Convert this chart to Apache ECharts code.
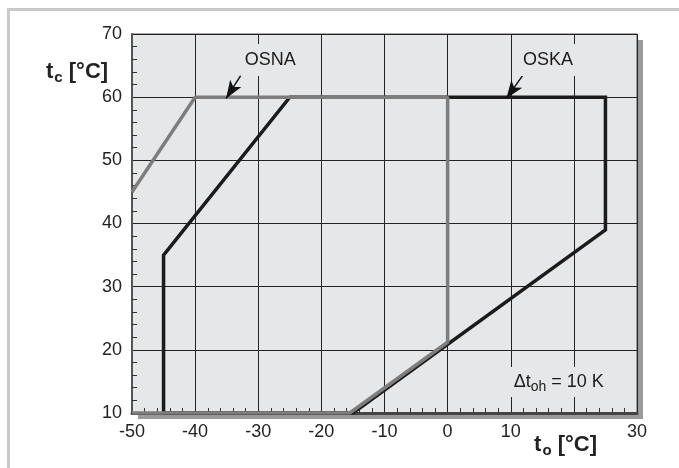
<!DOCTYPE html>
<html>
<head>
<meta charset="utf-8">
<script src="https://cdn.jsdelivr.net/npm/echarts@6/dist/echarts.min.js"></script>
<style>
  html, body { margin: 0; padding: 0; background: #fff; }
  #chart { width: 679px; height: 468px; }
</style>
</head>
<body>
<div id="chart"></div>
<script>
// evaporating temperature t_o (x) vs condensing temperature t_c (y)
const osnaX = [-50, -40, 0, 0, -15.5, -50];
const osnaY = [45, 60, 60, 21.2, 10, 10];
const oskaX = [-45, -45, -25, 25, 25, -15, -45];
const oskaY = [10, 35, 60, 60, 39, 10, 10];

const xTicks = { min: -50, max: 30, step: 10 };
const yTicks = { min: 10, max: 70, step: 10 };

// annotation anchors (data coords)
const osnaLabel = [-28.1, 65.9];
const oskaLabel = [15.9, 65.9];
const osnaLeader = [[-24, 64], [-32.4, 64], [-35.1, 59.8]];
const oskaLeader = [[20.4, 64], [12.3, 64], [9.3, 59.8]];
const noteLabel = [17.6, 14.9];

const bg = '#e6e7e8';
const font = '"Liberation Sans", Arial, sans-serif';

function pairs(xs, ys) {
    return xs.map((x, i) => [x, ys[i]]);
}

function leaderLines(pts) {
    return [
        [{ coord: pts[0], symbol: 'none' }, { coord: pts[1], symbol: 'none' }],
        [{ coord: pts[1], symbol: 'none' }, { coord: pts[2], symbol: 'arrow', symbolSize: [10, 18] }]
    ];
}

const nameRich = {
    b: { fontSize: 22, fontWeight: 'bold', color: '#222', fontFamily: font },
    s: { fontSize: 15, fontWeight: 'bold', color: '#222', fontFamily: font, padding: [12, 0, 0, 1] }
};

const chart = echarts.init(document.getElementById('chart'));

const option = {
    animation: false,
    textStyle: { fontFamily: font },
    // y axis name sits left of the axis, between the 60 and 70 labels
    title: {
        text: '{b|t}{s|c}{b| [°C]}',
        left: 46, top: 58,
        padding: 0,
        textStyle: { rich: nameRich }
    },
    graphic: [{
        id: 'frame',
        type: 'rect',
        left: 6, top: 7,
        shape: { width: 720, height: 520 },
        style: { fill: 'none', stroke: '#c9c9c9', lineWidth: 3 },
        z: -1
    }],
    grid: {
        left: 132, right: 42, top: 34, bottom: 55,
        show: true,
        backgroundColor: bg,
        borderColor: '#555',
        borderWidth: 1
    },
    xAxis: {
        type: 'value',
        min: xTicks.min, max: xTicks.max, interval: xTicks.step,
        name: '{b|t}{s|o}{b| [°C]}',
        nameLocation: 'end',
        nameGap: -40,
        nameMoveOverlap: false,
        nameTextStyle: {
            align: 'right', verticalAlign: 'top', padding: [18, 0, 0, 0],
            rich: nameRich
        },
        axisLine: { show: true, onZero: false, lineStyle: { color: '#444', width: 3 } },
        axisTick: { show: false, inside: true },
        minorTick: { show: true, splitNumber: 5, length: 5, lineStyle: { color: '#333', width: 1 } },
        axisLabel: {
            margin: 10, fontSize: 18, color: '#222',
            formatter: v => (v === 20 ? '' : String(v))
        },
        splitLine: { show: true, lineStyle: { color: '#222', width: 1 } }
    },
    yAxis: {
        type: 'value',
        min: yTicks.min, max: yTicks.max, interval: yTicks.step,
        axisLine: { show: true, onZero: false, lineStyle: { color: '#555', width: 2 } },
        axisTick: { show: false, inside: true },
        minorTick: { show: true, splitNumber: 5, length: 5, lineStyle: { color: '#333', width: 1 } },
        axisLabel: { margin: 10, fontSize: 18, color: '#222' },
        splitLine: { show: true, lineStyle: { color: '#222', width: 1 } }
    },
    series: [
        {
            name: 'OSKA',
            type: 'line',
            data: pairs(oskaX, oskaY),
            symbol: 'none',
            lineStyle: { color: '#1b1b1b', width: 3.5, join: 'miter' },
            z: 3
        },
        {
            name: 'OSNA',
            type: 'line',
            data: pairs(osnaX, osnaY),
            symbol: 'none',
            lineStyle: { color: '#7d7d7d', width: 3.5 },
            z: 4
        },
        {
            name: 'labels',
            type: 'scatter',
            symbol: 'rect',
            z: 5,
            itemStyle: { color: bg, opacity: 1 },
            label: { show: true, position: 'inside', fontSize: 18, color: '#1a1a1a', fontFamily: font },
            data: [
                { value: osnaLabel, symbolSize: [60, 32], label: { formatter: 'OSNA' } },
                { value: oskaLabel, symbolSize: [60, 32], label: { formatter: 'OSKA' } },
                {
                    value: noteLabel, symbolSize: [106, 30],
                    label: {
                        formatter: '{a|Δt}{s|oh}{a| = 10 K}',
                        rich: {
                            a: { fontSize: 18, color: '#1a1a1a', fontFamily: font },
                            s: { fontSize: 14, color: '#1a1a1a', fontFamily: font, padding: [10, 0, 0, 0] }
                        }
                    }
                }
            ]
        },
        {
            name: 'leaders',
            type: 'line',
            data: [],
            z: 6,
            markLine: {
                silent: true,
                symbolSize: 12,
                label: { show: false },
                lineStyle: { color: '#111', width: 1.5, type: 'solid' },
                data: leaderLines(osnaLeader).concat(leaderLines(oskaLeader))
            }
        }
    ]
};

chart.setOption(option);

// drop shadow behind the plot area, placed from the grid's own scale
const tl = chart.convertToPixel({ gridIndex: 0 }, [xTicks.min, yTicks.max]);
const br = chart.convertToPixel({ gridIndex: 0 }, [xTicks.max, yTicks.min]);
chart.setOption({
    graphic: [{
        id: 'shadow',
        type: 'rect',
        shape: { x: tl[0] + 6, y: tl[1] + 6, width: br[0] - tl[0], height: br[1] - tl[1] },
        style: { fill: '#9a9a9a' },
        z: -1
    }]
});
</script>
</body>
</html>
